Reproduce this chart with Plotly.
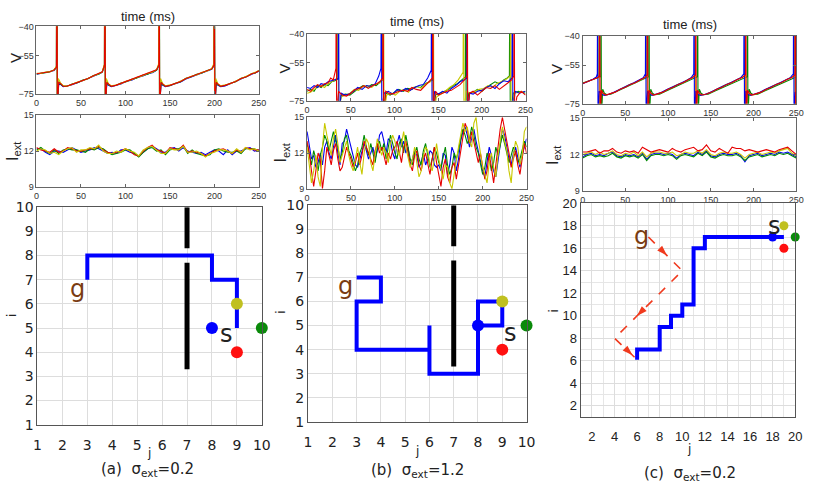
import numpy as np
import plotly.graph_objects as go

# ---------------- DATA ----------------
TIME_TICKS = [0, 50, 100, 150, 200, 250]
V_TICKS = [-75, -55, -40]
I_TICKS = [9, 12, 15]

# Membrane potential traces (t, V) - panel (a)
V_A_RED = [(0,-64.5),(5,-64.2),(10,-63.8),(15,-63.5),(20,-62.5),(22.5,-61),(23,0),(23.5,-82),(25,-69),(27,-69.5),(30,-71),(34,-71),(40,-70),(46,-69),(52,-68),(58,-67),(64,-65.5),(70,-64.5),(74,-63.5),(76.5,-60),(77,0),(77.5,-82),(79,-69),(81,-70),(84,-71),(89,-70.5),(95,-69.5),(101,-68.5),(107,-67.5),(113,-66.5),(119,-65.5),(125,-64.5),(131,-63.5),(135,-62.5),(137.5,-60),(138,0),(138.5,-82),(140,-69),(142,-70),(145,-71),(150,-70.5),(156,-69.5),(162,-68.5),(168,-67),(174,-66),(180,-65),(186,-64),(192,-63),(197,-62),(199.5,-60),(200,0),(200.5,-82),(202,-69),(204,-70),(207,-71),(212,-70.5),(218,-69.5),(224,-68.5),(230,-67),(236,-66),(242,-64.5),(246,-64),(250,-63)]
V_A_BLUE = [(0,-64.8),(5,-64.4),(10,-64),(15,-63.3),(20,-62.8),(22.3,-61.2),(22.8,0),(23.3,-82),(25,-70),(27,-70),(30,-71.2),(34,-70.8),(40,-70.2),(46,-69.2),(52,-68.2),(58,-66.8),(64,-65.8),(70,-64.6),(74,-63.8),(76.3,-60.5),(76.8,0),(77.3,-82),(79,-70),(81,-70.5),(84,-71.2),(89,-70.6),(95,-69.8),(101,-68.4),(107,-67.8),(113,-66.4),(119,-65.8),(125,-64.6),(131,-63.8),(135,-62.6),(137.3,-60.5),(137.8,0),(138.3,-82),(140,-70),(142,-70.5),(145,-71.2),(150,-70.6),(156,-69.6),(162,-68.8),(168,-67.2),(174,-66.2),(180,-65.2),(186,-64.2),(192,-63.2),(197,-62.2),(199.3,-60.5),(199.8,0),(200.3,-82),(202,-70),(204,-70.5),(207,-71.2),(212,-70.8),(218,-69.6),(224,-68.8),(230,-67.2),(236,-66.2),(242,-64.8),(246,-64.2),(250,-63.2)]
V_A_GREEN = [(0,-64.6),(5,-64.1),(10,-63.9),(15,-63.6),(20,-62.4),(22.6,-60.8),(23.1,0),(23.6,-82),(25,-68.5),(27,-69.8),(30,-70.8),(34,-71.1),(40,-69.8),(46,-69.1),(52,-67.8),(58,-67.1),(64,-65.4),(70,-64.7),(74,-63.4),(76.6,-59.8),(77.1,0),(77.6,-82),(79,-68.5),(81,-70.2),(84,-70.8),(89,-70.6),(95,-69.3),(101,-68.6),(107,-67.4),(113,-66.7),(119,-65.3),(125,-64.7),(131,-63.4),(135,-62.7),(137.6,-59.8),(138.1,0),(138.6,-82),(140,-68.5),(142,-70.2),(145,-70.8),(150,-70.7),(156,-69.4),(162,-68.6),(168,-66.8),(174,-66.1),(180,-64.8),(186,-64.1),(192,-62.8),(197,-62.1),(199.6,-59.8),(200.1,0),(200.6,-82),(202,-68.5),(204,-70.2),(207,-70.8),(212,-70.6),(218,-69.4),(224,-68.6),(230,-66.8),(236,-66.1),(242,-64.4),(246,-64.1),(250,-62.8)]
V_A_YELLOW = [(0,-64.3),(5,-64.3),(10,-63.6),(15,-63.4),(20,-62.6),(22.2,-60.5),(22.7,0),(23.2,-82),(24.5,-67),(27,-69.2),(30,-70.6),(34,-70.9),(40,-70.1),(46,-68.8),(52,-68.1),(58,-66.9),(64,-65.6),(70,-64.3),(74,-63.6),(76.2,-59.5),(76.7,0),(77.2,-82),(78.5,-67),(81,-69.8),(84,-70.7),(89,-70.4),(95,-69.6),(101,-68.3),(107,-67.6),(113,-66.3),(119,-65.6),(125,-64.3),(131,-63.6),(135,-62.3),(137.2,-59.5),(137.7,0),(138.2,-82),(139.5,-67),(142,-69.8),(145,-70.7),(150,-70.4),(156,-69.7),(162,-68.3),(168,-67.1),(174,-65.8),(180,-65.1),(186,-63.8),(192,-63.1),(197,-61.8),(199.2,-59.5),(199.7,0),(200.2,-82),(201.5,-67),(204,-69.8),(207,-70.7),(212,-70.4),(218,-69.7),(224,-68.3),(230,-67.1),(236,-65.8),(242,-64.6),(246,-63.8),(250,-62.9)]

# panel (b)
V_B_RED = [(0,-69),(4,-70),(8,-68),(12,-66.5),(16,-67.5),(20,-66),(24,-65.5),(27,-63),(30,-64),(32,-60),(33,-58),(33.3,0),(33.8,-82),(36,-70),(40,-72),(45,-72.5),(50,-71),(55,-69),(60,-68.5),(65,-67),(70,-68.5),(75,-67),(80,-66),(84,-64.5),(86.5,-63),(87,0),(87.5,-82),(90,-70),(95,-71.5),(100,-71),(105,-70),(110,-69.5),(115,-70),(120,-68),(125,-69),(130,-69.5),(135,-67),(140,-65),(143.5,-63),(144,0),(144.5,-82),(147,-70),(150,-72),(155,-71),(160,-70),(165,-69.5),(170,-68),(175,-66.5),(180,-64),(183,-62),(183.3,0),(183.8,-82),(186,-71),(190,-70),(195,-72),(200,-70),(205,-68),(210,-68.5),(215,-67),(220,-69),(225,-67),(230,-65.5),(234,-64),(236.5,-62),(237,0),(237.5,-82),(240,-73),(245,-70),(250,-72)]
V_B_BLUE = [(0,-68),(4,-68.5),(8,-67),(12,-68),(16,-66),(20,-66.5),(24,-65),(28,-64.5),(32,-64),(35.5,-63.5),(36,0),(36.5,-82),(39,-71),(43,-72),(48,-71.5),(53,-70),(58,-68),(63,-69),(68,-67),(73,-67.5),(78,-66),(82,-62),(84.5,-58),(85,0),(85.5,-82),(88,-71),(93,-70),(98,-71.5),(103,-69),(108,-70),(113,-68.5),(118,-69.5),(123,-68),(128,-67),(133,-66.5),(138,-63),(142,-59),(142.5,0),(143,-82),(146,-70),(150,-71.5),(155,-70),(160,-71),(165,-68.5),(170,-67),(175,-65),(180,-64),(182.5,-63),(183,0),(183.5,-82),(186,-71),(190,-71.5),(195,-70),(200,-69.5),(205,-68),(210,-67),(215,-68.5),(220,-66),(225,-64.5),(230,-65),(234.5,-63),(235,0),(235.5,-82),(238,-70),(243,-71),(250,-70)]
V_B_GREEN = [(0,-70),(4,-69),(8,-70),(12,-67),(16,-68),(20,-66.5),(24,-67),(28,-65),(32,-64.5),(35,-63.5),(35.5,0),(36,-82),(39,-72),(44,-71.5),(49,-72),(54,-70),(59,-68.5),(64,-67),(69,-68),(74,-66.5),(79,-67),(84,-65),(86.5,-64),(87,0),(87.5,-82),(90,-71),(95,-72),(100,-70.5),(105,-69),(110,-70),(115,-68.5),(120,-69),(125,-67.5),(130,-68),(135,-66),(140,-65),(143.5,-64),(144,0),(144.5,-82),(147,-72),(152,-71),(157,-70),(162,-69),(167,-67),(172,-66),(177,-64),(181,-62.5),(181.5,0),(182,-82),(185,-71),(190,-70.5),(195,-69),(200,-70),(205,-68),(210,-66.5),(215,-65),(220,-66),(225,-64),(229,-63),(231.5,-62),(232,0),(232.5,-82),(236,-71),(242,-70),(250,-71)]
V_B_YELLOW = [(0,-71),(4,-70.5),(8,-69),(12,-68),(16,-67),(20,-68),(24,-66),(28,-65),(32,-64),(35,-62.5),(35.5,0),(36,-82),(39,-73),(44,-72),(49,-71),(54,-69),(59,-69.5),(64,-67.5),(69,-67),(74,-68),(79,-66),(84,-65.5),(87,-63.5),(87.5,0),(88,-82),(91,-72),(96,-71),(101,-72),(106,-70),(111,-69),(116,-70.5),(121,-68),(126,-67.5),(131,-68.5),(136,-66),(141,-65),(144,-63),(144.5,0),(145,-82),(148,-73),(153,-71.5),(158,-70),(163,-68),(168,-66.5),(173,-64),(176,-62),(178.5,-60),(179,0),(179.5,-82),(182,-70),(187,-71),(192,-70),(197,-69),(202,-68.5),(207,-67),(212,-68),(217,-66),(222,-65),(227,-64),(232.5,-62),(233,0),(233.5,-82),(237,-71),(243,-70.5),(250,-70)]

# panel (c)
V_C_RED = [(0,-64.5),(6,-63.5),(12,-62.5),(18,-61.5),(19.7,-60.5),(20,0),(20.5,-82),(22,-68),(24,-69.5),(27,-70.5),(32,-70),(38,-69),(44,-67.5),(50,-66.5),(56,-65),(62,-64),(68,-62.5),(73,-61.5),(75.7,-60),(76,0),(76.5,-82),(78,-68),(80,-69.5),(83,-70.5),(88,-70),(94,-69),(100,-67.5),(106,-66.5),(112,-65),(118,-64),(124,-62.5),(129,-61.5),(132.2,-60),(132.5,0),(133,-82),(134.5,-68),(136.5,-69.5),(139.5,-70.5),(145,-70),(151,-69),(157,-67.5),(163,-66.5),(169,-65),(175,-64),(181,-62.5),(187,-61.5),(190.7,-60),(191,0),(191.5,-82),(193,-68),(195,-69.5),(198,-70.5),(203,-70),(209,-69),(215,-67.5),(221,-66.5),(227,-65),(233,-64),(239,-62.5),(245,-61.5),(248.7,-60),(249,0),(249.5,-82),(250,-72)]
V_C_BLUE = [(0,-64.7),(6,-63.7),(12,-62.3),(16,-61.2),(17.2,-59.5),(17.5,0),(18,-82),(19.5,-68.5),(22,-69.8),(25,-70.7),(30,-70.2),(36,-69.2),(42,-67.8),(48,-66.7),(54,-65.3),(60,-64.2),(66,-62.8),(71,-61.6),(73.5,-59.5),(73.8,0),(74.3,-82),(76,-68.5),(78,-69.8),(81,-70.7),(86,-70.2),(92,-69.2),(98,-67.8),(104,-66.7),(110,-65.3),(116,-64.2),(122,-62.8),(127,-61.6),(130.1,-59.5),(130.4,0),(130.9,-82),(132.5,-68.5),(134.5,-69.8),(137.5,-70.7),(143,-70.2),(149,-69.2),(155,-67.8),(161,-66.7),(167,-65.3),(173,-64.2),(179,-62.8),(185,-61.6),(188.7,-59.5),(189,0),(189.5,-82),(191,-68.5),(193,-69.8),(196,-70.7),(201,-70.2),(207,-69.2),(213,-67.8),(219,-66.7),(225,-65.3),(231,-64.2),(237,-62.8),(243,-61.6),(246.7,-59.5),(247,0),(247.5,-82),(249,-69),(250,-70)]
V_C_GREEN = [(0,-64.3),(6,-63.4),(12,-62.6),(18,-61.7),(21.2,-61),(21.5,0),(22,-82),(23.5,-67.5),(25.5,-69.6),(28.5,-70.3),(33,-70.1),(39,-68.8),(45,-67.6),(51,-66.3),(57,-65.2),(63,-63.8),(69,-62.6),(74,-61.8),(77.4,-61),(77.7,0),(78.2,-82),(79.7,-67.5),(81.7,-69.6),(84.7,-70.3),(90,-70.1),(96,-68.8),(102,-67.6),(108,-66.3),(114,-65.2),(120,-63.8),(126,-62.6),(131,-61.8),(134.3,-61),(134.6,0),(135.1,-82),(136.6,-67.5),(138.6,-69.6),(141.6,-70.3),(147,-70.1),(153,-68.8),(159,-67.6),(165,-66.3),(171,-65.2),(177,-63.8),(183,-62.6),(189,-61.8),(192.7,-61),(193,0),(193.5,-82),(195,-67.5),(197,-69.6),(200,-70.3),(205,-70.1),(211,-68.8),(217,-67.6),(223,-66.3),(229,-65.2),(235,-63.8),(241,-62.6),(247,-61.8),(250,-61.2)]
V_C_YELLOW = [(0,-64.6),(6,-63.6),(12,-62.4),(18,-61.4),(18.7,-60.5),(19,0),(19.5,-82),(21,-68.2),(23,-69.7),(26,-70.6),(31,-70.1),(37,-69.1),(43,-67.7),(49,-66.6),(55,-65.1),(61,-64.1),(67,-62.7),(72,-61.6),(74.7,-60.5),(75,0),(75.5,-82),(77,-68.2),(79,-69.7),(82,-70.6),(87,-70.1),(93,-69.1),(99,-67.7),(105,-66.6),(111,-65.1),(117,-64.1),(123,-62.7),(128,-61.6),(131.2,-60.5),(131.5,0),(132,-82),(133.5,-68.2),(135.5,-69.7),(138.5,-70.6),(144,-70.1),(150,-69.1),(156,-67.7),(162,-66.6),(168,-65.1),(174,-64.1),(180,-62.7),(186,-61.6),(189.7,-60.5),(190,0),(190.5,-82),(192,-68.2),(194,-69.7),(197,-70.6),(202,-70.1),(208,-69.1),(214,-67.7),(220,-66.6),(226,-65.1),(232,-64.1),(238,-62.7),(244,-61.6),(247.7,-60.5),(248,0),(248.5,-82),(250,-68.5)]

# External current (evenly spaced over 0..250 ms)
I_A_BLUE = [12.2,12.2,11.9,11.7,12.0,12.0,11.9,12.1,12.3,12.1, 11.9,12.0,12.1,12.3,12.2,12.0,11.8,11.9,11.8,12.1, 12.1,11.9,11.8,11.6,11.9,12.2,12.4,12.2,11.9,11.9, 12.2,12.3,12.0,12.3,12.0,11.9,11.8,11.9,11.7,11.9, 12.1,12.0,11.7,12.1,11.7,12.0,12.0,12.2,12.3,12.0,12.1]
I_A_GREEN = [12.1,12.3,12.0,11.8,12.1,11.8,12.1,12.2,12.1,12.1, 12.0,11.9,12.2,12.1,12.3,12.2,11.9,11.7,11.8,11.9, 12.1,12.1,11.8,11.5,11.9,12.2,12.3,12.0,12.1,11.7, 12.1,12.2,12.2,12.4,11.8,12.1,11.8,11.7,11.6,11.7, 12.1,12.2,12.0,11.9,11.9,12.0,11.8,12.2,12.2,12.2,12.0]
I_A_RED = [12.3,12.1,12.0,11.9,12.2,11.9,12.0,12.3,12.2,12.0, 12.0,12.1,12.2,12.2,12.4,12.1,11.9,11.8,11.9,12.0, 12.2,12.0,11.7,11.6,12.0,12.3,12.5,12.1,12.0,11.8, 12.3,12.2,12.1,12.5,11.9,12.0,11.9,11.8,11.6,11.8, 12.0,12.1,12.2,12.0,11.8,12.1,11.9,12.3,12.2,12.1,12.1]
I_A_YELLOW = [12.0,12.2,12.1,11.8,11.9,11.7,12.0,12.2,12.3,11.9, 12.1,12.1,12.3,12.2,12.5,12.0,11.8,11.8,12.0,11.9, 12.2,12.0,11.9,11.6,12.1,12.3,12.4,12.1,11.8,11.8, 12.2,12.1,12.1,12.4,11.9,11.9,12.0,11.8,11.5,11.8, 11.9,12.1,12.1,12.0,11.8,12.2,11.9,12.3,12.1,12.2,12.0]

I_B_BLUE = [13.8,12.5,11.5,11.8,10.8,11.2,12.0,11.0,12.5,13.0, 12.0,11.5,12.5,13.5,12.0,11.0,12.8,13.0,14.0,13.2, 12.5,11.8,11.0,10.8,11.5,12.0,12.8,12.2,11.5,12.0, 12.5,11.5,12.2,13.5,13.8,13.0,12.0,13.2,13.0,12.0, 11.5,12.8,13.5,12.5,13.0,12.0,12.5,11.0,11.5,12.2, 11.8,10.8,11.2,12.0,11.0,11.5,12.2,12.0,11.0,10.8, 11.0,10.5,12.0,11.8,10.2,11.0,12.5,12.0,10.5,11.5, 13.0,13.8,14.2,13.5,12.5,13.2,14.0,13.0,12.2,11.5, 10.5,10.0,11.2,12.5,11.8,10.5,10.0,11.5,13.0,14.0, 13.5,12.5,11.5,11.0,12.0,12.5,11.5,10.8,11.8,12.5,13.2]
I_B_RED = [13.0,12.0,10.5,9.2,10.5,12.0,11.5,9.0,10.5,12.5, 11.8,11.0,12.2,12.8,11.5,10.5,10.8,11.8,12.5,12.0, 11.5,10.8,11.2,12.0,11.0,11.8,13.0,12.5,12.0,11.5, 11.0,12.2,12.8,12.0,12.5,11.8,11.0,12.0,11.5,12.2, 12.5,13.0,12.0,11.2,12.5,13.0,12.0,11.0,10.5,11.8, 12.2,11.0,10.5,11.5,12.0,11.0,10.2,11.5,12.5,11.2, 10.0,9.2,10.8,11.5,10.0,9.5,10.8,11.2,9.8,11.0, 12.5,13.5,14.5,14.0,12.8,13.8,13.0,12.0,11.2,12.0, 11.0,9.8,10.5,12.0,10.8,9.5,11.0,12.8,14.0,15.0, 14.0,13.2,12.0,10.8,11.5,12.2,11.0,10.2,11.5,12.8,12.0]
I_B_GREEN = [12.8,11.8,11.0,12.2,11.5,10.5,11.8,12.5,13.5,13.0, 12.2,13.0,13.8,13.0,12.5,11.5,12.0,13.2,13.5,12.2, 11.8,11.2,10.5,11.0,12.0,12.5,13.5,12.5,11.8,12.8, 12.0,11.2,12.5,13.0,12.2,12.8,11.5,12.5,13.5,12.8, 12.0,11.5,12.8,13.2,12.0,13.5,12.5,11.5,11.0,12.0, 12.5,11.5,11.0,12.2,12.8,11.8,10.8,11.5,12.5,12.0, 11.2,10.8,11.8,12.5,11.0,10.2,10.8,12.0,11.5,12.2, 13.2,14.0,13.5,12.8,13.2,14.2,13.5,12.5,12.0,11.0, 10.2,10.8,12.0,11.5,10.5,11.2,12.5,11.8,12.8,13.5, 12.8,12.0,11.2,11.8,12.5,12.0,11.2,11.5,12.2,13.0,12.5]
I_B_YELLOW = [12.5,11.0,9.5,10.5,11.8,10.0,9.2,12.5,14.5,13.5, 12.5,11.8,13.2,14.0,12.8,11.2,11.8,12.5,13.0,11.8, 11.0,10.5,11.5,12.5,11.2,10.2,12.0,13.2,12.8,11.2, 10.5,11.8,13.2,12.5,11.8,12.5,12.0,11.2,12.8,13.5, 13.0,12.2,11.8,12.8,13.8,12.5,11.5,10.8,11.5,12.5, 11.2,10.0,10.5,11.8,12.5,12.2,11.0,10.5,11.5,12.8, 11.5,10.5,9.8,11.0,10.8,9.5,9.0,10.2,11.5,12.5, 13.5,14.5,13.8,14.2,13.0,12.5,14.5,15.0,13.2,11.8, 10.8,10.2,9.5,11.2,12.0,10.8,10.0,11.8,13.2,14.2, 13.0,12.2,10.5,9.5,11.8,13.0,12.5,11.0,11.8,13.8,14.2]

I_C_BLUE = [11.8,12.0,12.1,11.9,12.0,11.9,12.1,12.2,11.9,11.8, 12.0,11.9,12.0,11.8,12.1,11.6,12.0,12.1,12.1,12.0, 12.1,12.0,11.7,12.0,12.1,12.0,11.9,12.2,12.0,12.3, 11.9,11.8,12.0,12.1,12.0,12.0,12.1,11.9,11.4,11.9, 12.0,12.1,11.9,12.0,12.1,12.0,12.2,12.1,12.2,12.0,11.8]
I_C_GREEN = [11.7,11.9,12.0,11.8,11.9,11.8,11.9,12.1,11.8,11.7, 11.9,11.8,11.9,11.7,12.0,11.5,11.9,12.0,12.0,11.9, 12.0,11.9,11.6,11.9,12.0,11.9,11.8,12.1,11.9,12.2, 11.8,11.7,11.9,12.0,11.9,11.9,12.0,11.8,11.5,11.8, 11.9,12.0,11.8,11.9,12.0,11.9,12.1,12.0,12.1,11.9,11.7]
I_C_YELLOW = [12.0,12.1,12.2,12.0,12.2,12.0,12.1,12.3,12.0,11.9, 12.1,12.0,12.2,11.9,12.2,11.8,12.1,12.2,12.2,12.1, 12.1,12.2,11.9,12.0,12.2,12.1,12.1,12.3,12.1,12.4, 12.0,11.9,12.1,12.2,12.1,12.1,12.2,12.0,11.7,12.0, 12.1,12.2,12.0,12.1,12.2,12.1,12.3,12.4,12.5,12.1,11.9]
I_C_RED = [12.2,12.2,12.3,12.4,12.1,12.3,12.3,12.5,12.2,12.1, 12.3,12.2,12.3,12.1,12.6,12.4,12.2,12.3,12.4,12.3, 12.2,12.5,12.3,12.2,12.4,12.5,12.6,12.3,12.4,12.8, 12.3,12.2,12.5,12.3,12.1,12.6,12.5,12.5,12.3,12.4, 12.3,12.2,12.3,12.4,12.3,12.2,12.4,12.5,12.6,12.3,12.0]

# Grid worlds
WALL_J = [7, 7, None, 7, 7]
WALL_I = [3.3, 7.7, None, 8.3, 10]
PATH_A_J = [3, 3, 8, 8, 9, 9]
PATH_A_I = [7, 8, 8, 7, 7, 5]
PATH_B_J = [3, 4, 4, 3, 3, 6, 6, 6, 8, 8, 9, 9, 8]
PATH_B_I = [7, 7, 6, 6, 4, 4, 5, 3, 3, 6, 6, 5, 5]
PATH_C_J = [6, 6, 8, 8, 9, 9, 10, 10, 11, 11, 12, 12, 19]
PATH_C_I = [6.1, 7, 7, 9, 9, 10, 10, 11, 11, 16, 16, 17, 17]
ARROW_C_J = [7, 10, 4, 6]
ARROW_C_I = [17, 14, 8, 6.1]
ARROW_FRAC = [0.55, 0.67, 0.8]
# agents: blue, yellow, green, red  (j, i)
AG_AB_J = [8, 9, 10, 9]
AG_AB_I = [5, 6, 5, 4]
AG_C_J = [18, 19, 20, 19]
AG_C_I = [17, 18, 17, 16]
LABEL_G = {"a": (2.6, 6.6), "b": (2.55, 6.65), "c": (6.4, 17.1)}
LABEL_S = {"a": (8.6, 4.75), "b": (9.35, 4.7), "c": (18.2, 18.0)}
CAPTIONS = ["(a)  σ<sub>ext</sub>=0.2", "(b)  σ<sub>ext</sub>=1.2", "(c)  σ<sub>ext</sub>=0.2"]

# ---------------- STYLE ----------------
W, H = 816, 483
BLUE, RED, GREEN, YELLOW = "#0000ee", "#e60000", "#008a00", "#c8c800"
AGENT_COLORS = ["#0000ff", "#c0c020", "#0a8a0a", "#ff1010"]
BROWN = "#7a3c12"
ARROW_RED = "#f03a1e"

# pixel boxes (left, right, top, bottom)
BOXES = {1: (33, 259, 19, 89), 2: (33, 259, 111, 185), 3: (34, 262, 206, 431),
         4: (308, 530, 27, 96), 5: (308, 531, 113, 187), 6: (309, 531, 204, 428),
         7: (588, 805, 29, 99), 8: (588, 805, 114, 189), 9: (586, 804, 202, 423)}

fig = go.Figure()


def ax(i):
    return ("x" if i == 1 else f"x{i}"), ("y" if i == 1 else f"y{i}")


def add(tr, i):
    xa, ya = ax(i)
    tr.update(xaxis=xa, yaxis=ya, showlegend=False, hoverinfo="skip")
    fig.add_trace(tr)


def pairs(p):
    t, v = zip(*p)
    return list(t), list(v)


# V panels
for idx, traces in [(1, [(V_A_BLUE, BLUE), (V_A_GREEN, GREEN), (V_A_YELLOW, YELLOW), (V_A_RED, RED)]),
                    (4, [(V_B_GREEN, GREEN), (V_B_YELLOW, YELLOW), (V_B_BLUE, BLUE), (V_B_RED, RED)]),
                    (7, [(V_C_GREEN, GREEN), (V_C_YELLOW, YELLOW), (V_C_BLUE, BLUE), (V_C_RED, RED)])]:
    for p, c in traces:
        t, v = pairs(p)
        add(go.Scatter(x=t, y=v, mode="lines", line=dict(color=c, width=1.1)), idx)

# I_ext panels
for idx, traces in [(2, [(I_A_BLUE, BLUE), (I_A_GREEN, GREEN), (I_A_RED, RED), (I_A_YELLOW, YELLOW)]),
                    (5, [(I_B_BLUE, BLUE), (I_B_GREEN, GREEN), (I_B_RED, RED), (I_B_YELLOW, YELLOW)]),
                    (8, [(I_C_BLUE, BLUE), (I_C_GREEN, GREEN), (I_C_YELLOW, YELLOW), (I_C_RED, RED)])]:
    for vals, c in traces:
        t = np.linspace(0, 250, len(vals))
        add(go.Scatter(x=t, y=vals, mode="lines", line=dict(color=c, width=1.1)), idx)

# grid panels
for idx, pj, pi in [(3, PATH_A_J, PATH_A_I), (6, PATH_B_J, PATH_B_I)]:
    add(go.Scatter(x=WALL_J, y=WALL_I, mode="lines", line=dict(color="black", width=5)), idx)
    add(go.Scatter(x=pj, y=pi, mode="lines", line=dict(color="#0000ff", width=4)), idx)
    add(go.Scatter(x=AG_AB_J, y=AG_AB_I, mode="markers", cliponaxis=False,
                   marker=dict(color=AGENT_COLORS, size=12, line=dict(width=0))), idx)

add(go.Scatter(x=ARROW_C_J, y=ARROW_C_I, mode="lines", line=dict(color=ARROW_RED, width=1.6, dash="dash")), 9)

# arrowheads placed along the dashed segments, oriented in screen space
l9, r9, t9, b9 = BOXES[9]
sx = (r9 - l9) / 19.0
sy = (b9 - t9) / 19.0
hx, hy, ang = [], [], []
for k, f in enumerate(ARROW_FRAC):
    x0, y0 = ARROW_C_J[k], ARROW_C_I[k]
    x1, y1 = ARROW_C_J[k + 1], ARROW_C_I[k + 1]
    hx.append(x0 + f * (x1 - x0))
    hy.append(y0 + f * (y1 - y0))
    ang.append(float(np.degrees(np.arctan2((x1 - x0) * sx, (y1 - y0) * sy))))
add(go.Scatter(x=hx, y=hy, mode="markers",
               marker=dict(symbol="arrow", size=11, angle=ang, color=ARROW_RED, line=dict(width=0))), 9)

add(go.Scatter(x=PATH_C_J, y=PATH_C_I, mode="lines", line=dict(color="#0000ff", width=4)), 9)
add(go.Scatter(x=AG_C_J, y=AG_C_I, mode="markers", cliponaxis=False,
               marker=dict(color=AGENT_COLORS, size=9, line=dict(width=0))), 9)

annotations = []
for key, idx in [("a", 3), ("b", 6), ("c", 9)]:
    xa, ya = ax(idx)
    gx, gy = LABEL_G[key]
    sx_, sy_ = LABEL_S[key]
    annotations.append(dict(x=gx, y=gy, xref=xa, yref=ya, text="g", showarrow=False,
                            font=dict(family="DejaVu Sans", size=24, color=BROWN)))
    annotations.append(dict(x=sx_, y=sy_, xref=xa, yref=ya, text="s", showarrow=False,
                            font=dict(family="DejaVu Sans", size=24, color="#222")))


def pa(txt, x, y, size, angle=0, family="Liberation Sans"):
    annotations.append(dict(x=x / W, y=1 - y / H, xref="paper", yref="paper", text=txt,
                            showarrow=False, textangle=angle, xanchor="center", yanchor="middle",
                            font=dict(family=family, size=size, color="#222")))


for (cx, ty) in [(146, 9), (420, 14), (697, 17)]:
    pa("time (ms)", cx, ty, 13)
for (x, y) in [(11, 52), (285, 62), (562, 63)]:
    pa("V", x, y, 15, -90)
for (x, y) in [(9, 148), (282, 150), (559, 152)]:
    pa("I<sub>ext</sub>", x, y, 16, -90)
for (x, y) in [(8, 318), (281, 315), (559, 313)]:
    pa("i", x, y, 13, -90, "DejaVu Sans")
for (x, y) in [(147, 460), (420, 458), (696, 456)]:
    pa("j", x, y, 12, 0, "DejaVu Sans")
for cap, (x, y) in zip(CAPTIONS, [(146, 477), (420, 478), (697, 481)]):
    pa(cap, x, y, 15, 0, "DejaVu Sans")

layout = dict(width=W, height=H, margin=dict(l=0, r=0, t=0, b=0),
              plot_bgcolor="white", paper_bgcolor="white", showlegend=False,
              annotations=annotations)

small = dict(family="Liberation Sans", size=9, color="#333")
for idx, (l, r, t, b) in BOXES.items():
    xa, ya = ax(idx)
    xname = "xaxis" if idx == 1 else f"xaxis{idx}"
    yname = "yaxis" if idx == 1 else f"yaxis{idx}"
    xd = [l / W, r / W]
    yd = [1 - b / H, 1 - t / H]
    if idx in (1, 4, 7, 2, 5, 8):
        isV = idx in (1, 4, 7)
        layout[xname] = dict(domain=xd, anchor=ya, range=[0, 250], tickvals=TIME_TICKS,
                             showgrid=False, zeroline=False, showline=True, linecolor="#666",
                             linewidth=1, mirror="allticks", ticks="inside", ticklen=3,
                             tickcolor="#666", tickfont=small)
        layout[yname] = dict(domain=yd, anchor=xa,
                             range=[-75, -40] if isV else [9, 15],
                             tickvals=V_TICKS if isV else I_TICKS,
                             showgrid=False, zeroline=False, showline=True, linecolor="#666",
                             linewidth=1, mirror="allticks", ticks="inside", ticklen=3,
                             tickcolor="#666", tickfont=small)
    else:
        if idx == 9:
            rng = [1, 20]
            tv = list(range(2, 21, 2))
            minor = dict(dtick=1, tick0=0, showgrid=True, gridcolor="#e6e6e6", gridwidth=1)
            big = dict(family="Liberation Sans", size=13, color="#222")
        else:
            rng = [1, 10]
            tv = list(range(1, 11))
            minor = None
            big = dict(family="DejaVu Sans", size=14, color="#222")
        common = dict(range=rng, tickvals=tv, showgrid=True, gridcolor="#dddddd", gridwidth=1,
                      zeroline=False, showline=True, linecolor="#555", linewidth=1.2, mirror=True,
                      ticks="", tickfont=big)
        if minor:
            common["minor"] = minor
        layout[xname] = dict(domain=xd, anchor=ya, ticklabelstandoff=7, **common)
        layout[yname] = dict(domain=yd, anchor=xa, **common)

fig.update_layout(**layout)
fig.write_html("out.html")
